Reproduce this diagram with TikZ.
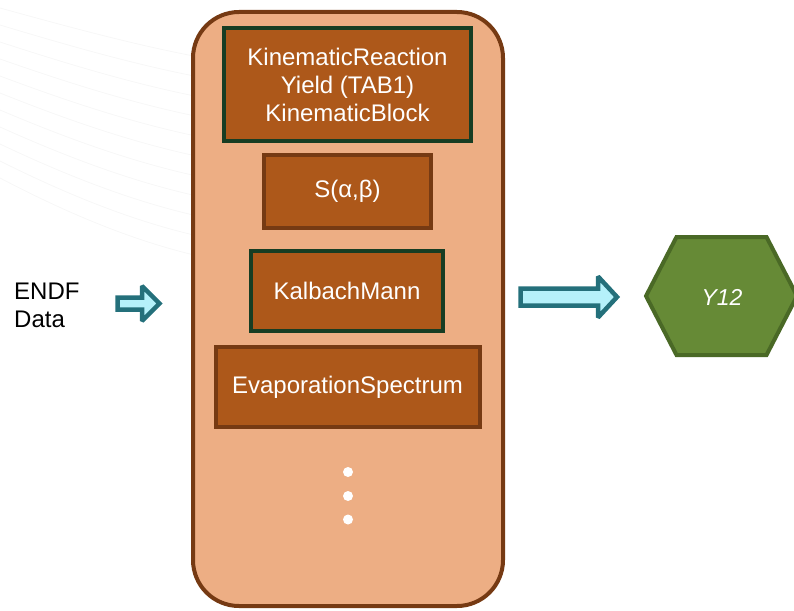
\documentclass[tikz,border=0pt]{standalone}
\usepackage{fontspec}
\setmainfont{Liberation Sans}
\usetikzlibrary{positioning}

\definecolor{peach}{HTML}{EDAE84}
\definecolor{rust}{HTML}{AD581A}
\definecolor{brownline}{HTML}{763A13}
\definecolor{darkgreen}{HTML}{173D23}
\definecolor{teal}{HTML}{24707B}
\definecolor{icecyan}{HTML}{B5F1FA}
\definecolor{leaf}{HTML}{668A36}
\definecolor{leafline}{HTML}{4A6926}

\tikzset{
  frame/.style={draw=brownline,fill=peach,line width=4pt,rounded corners=46pt,minimum width=310pt,minimum height=594pt},
  recbox/.style={fill=rust,line width=4pt,text=white,align=center,inner sep=0pt,font=\fontsize{24}{28}\selectfont},
  greenbox/.style={recbox,draw=darkgreen},
  brownbox/.style={recbox,draw=brownline},
  blockarrow/.style={draw=teal,fill=icecyan,line width=4.5pt,miter limit=2.5},
  faintline/.style={draw=black!3,line width=0.8pt}
}

\begin{document}
\begin{tikzpicture}[x=1pt,y=-1pt]
\useasboundingbox (0,0) rectangle (794,610);

%background
\foreach \i in {0,...,10}
  \draw[faintline] (0,8+17*\i) .. controls (80,30+19*\i) and (160,52+20*\i) .. (240,64+20*\i);

%container
\node[frame] (frame) at (348,309) {};

%1
\node[greenbox,minimum width=247pt,minimum height=113pt] (kin) at (347.5,84.5) {KinematicReaction\\Yield (TAB1)\\KinematicBlock};
%2
\node[brownbox,minimum width=167pt,minimum height=73pt] (sab) at (347.5,191.5) {S(α,β)};
%3
\node[greenbox,minimum width=192pt,minimum height=80pt] (kal) at (347,291) {KalbachMann};
%4
\node[brownbox,minimum width=264pt,minimum height=80pt] (evap) at (347.5,387) {EvaporationSpectrum};

%dots
\fill[white] (348,472) circle (5pt);
\fill[white] (348,496) circle (5pt);
\fill[white] (348,519.5) circle (5pt);

%input
\node[align=left,inner sep=0pt,anchor=west,font=\fontsize{24}{28}\selectfont] (endf) at (14,305) {ENDF\\Data};

%output
\filldraw[draw=leafline,fill=leaf,line width=4pt] (646,296) -- (676.5,237) -- (766.5,237) -- (797,296) -- (766.5,355) -- (676.5,355) -- cycle;
\node[text=white,font=\fontsize{23}{28}\selectfont\itshape] (y12) at (722,297) {Y12};

%arrows
\filldraw[blockarrow] (117.5,297.5) -- (142,297.5) -- (142,286) -- (159.5,303.5) -- (142,321) -- (142,309.5) -- (117.5,309.5) -- cycle;
\filldraw[blockarrow] (520.5,288.5) -- (598,288.5) -- (598,276.5) -- (617,297) -- (598,317.5) -- (598,305.5) -- (520.5,305.5) -- cycle;
\end{tikzpicture}
\end{document}
